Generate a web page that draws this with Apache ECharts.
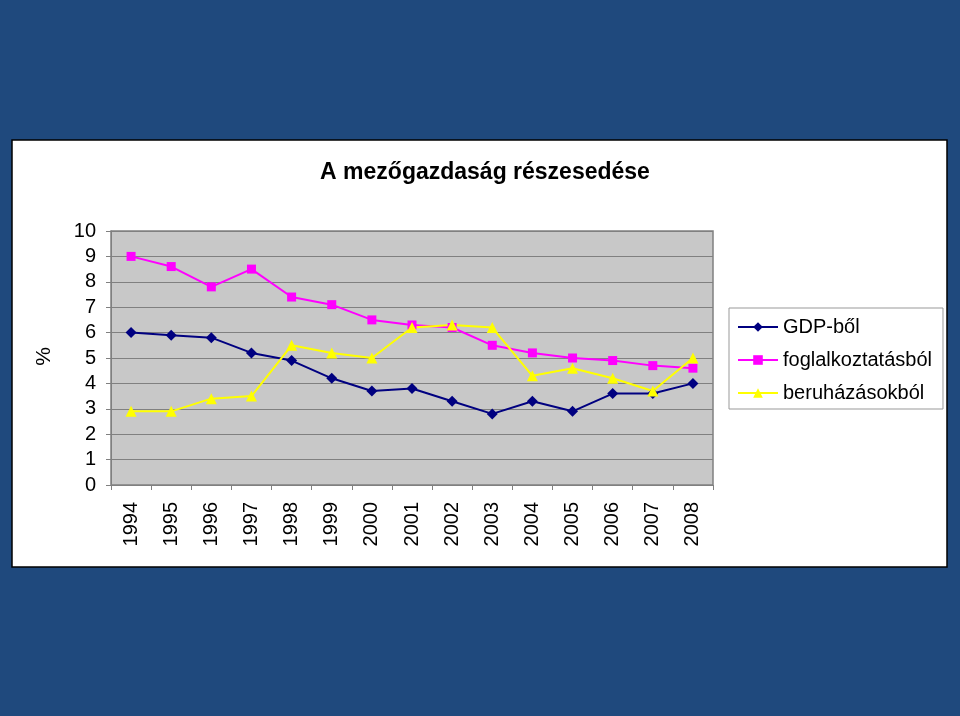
<!DOCTYPE html>
<html><head><meta charset="utf-8">
<script src="https://cdn.jsdelivr.net/npm/echarts@6/dist/echarts.min.js"></script>
<style>html,body{margin:0;padding:0;background:#1F497D;}#c{width:960px;height:716px;}</style>
</head><body><div id="c"></div>
<script>
const years = ['1994','1995','1996','1997','1998','1999','2000','2001','2002','2003','2004','2005','2006','2007','2008'];
const gdp = [6.0,5.9,5.8,5.2,4.9,4.2,3.7,3.8,3.3,2.8,3.3,2.9,3.6,3.6,4.0];
const fogl = [9.0,8.6,7.8,8.5,7.4,7.1,6.5,6.3,6.2,5.5,5.2,5.0,4.9,4.7,4.6];
const beruh = [2.9,2.9,3.4,3.5,5.5,5.2,5.0,6.2,6.3,6.2,4.3,4.6,4.2,3.7,5.0];
const yTicks = [0,1,2,3,4,5,6,7,8,9,10];

const chart = echarts.init(document.getElementById('c'));
const font = 'Arial, "Liberation Sans", sans-serif';
chart.setOption({
  backgroundColor: '#1F497D',
  animation: false,
  graphic: [
    {type:'rect', z:-10, shape:{x:12,y:140,width:935,height:427}, style:{fill:'#ffffff', stroke:'#000000', lineWidth:1.5}},
    {type:'text', left:34, top:347, rotation:Math.PI/2, style:{text:'%', font:'21px ' + font, fill:'#000'}}
  ],
  title: {
    text: 'A mezőgazdaság részesedése',
    left: 480, textAlign: 'center', top: 156,
    textStyle: {fontFamily: font, fontSize: 23, fontWeight: 'bold', color: '#000'}
  },
  legend: {
    orient: 'vertical', left: 729, top: 308,
    padding: [9, 11, 6, 8],
    borderColor: '#999', borderWidth: 1, backgroundColor: '#fff',
    itemWidth: 40, itemHeight: 12, itemGap: 13,
    textStyle: {fontFamily: font, fontSize: 20, lineHeight: 20, color: '#000'},
    data: ['GDP-ből','foglalkoztatásból','beruházásokból']
  },
  grid: {left: 111, right: 247, top: 231, height: 254, containLabel: false,
    show: true, backgroundColor: '#C8C8C8', borderColor: '#808080', borderWidth: 1.5},
  xAxis: {
    type: 'category', data: years, boundaryGap: true,
    axisLine: {lineStyle: {color: '#808080', width: 1}},
    axisTick: {show: true, length: 5, lineStyle: {color: '#808080'}},
    axisLabel: {rotate: 90, fontFamily: font, fontSize: 20, color: '#000', margin: 17}
  },
  yAxis: {
    type: 'value', min: 0, max: 10, interval: 1,
    axisLine: {show: true, lineStyle: {color: '#808080'}},
    axisTick: {show: true, length: 5, lineStyle: {color: '#808080'}},
    splitLine: {lineStyle: {color: '#808080', width: 1}},
    axisLabel: {fontFamily: font, fontSize: 20, color: '#000', margin: 15,
      formatter: v => yTicks.includes(v) ? String(v) : ''}
  },
  series: [
    {name:'GDP-ből', type:'line', data: gdp, symbol:'diamond', symbolSize: 11,
      lineStyle:{color:'#000080', width:2}, itemStyle:{color:'#000080'}},
    {name:'foglalkoztatásból', type:'line', data: fogl, symbol:'rect', symbolSize: 9,
      lineStyle:{color:'#FF00FF', width:2}, itemStyle:{color:'#FF00FF'}},
    {name:'beruházásokból', type:'line', data: beruh, symbol:'triangle', symbolSize: 11,
      lineStyle:{color:'#FFFF00', width:2}, itemStyle:{color:'#FFFF00'}}
  ]
});
</script></body></html>
